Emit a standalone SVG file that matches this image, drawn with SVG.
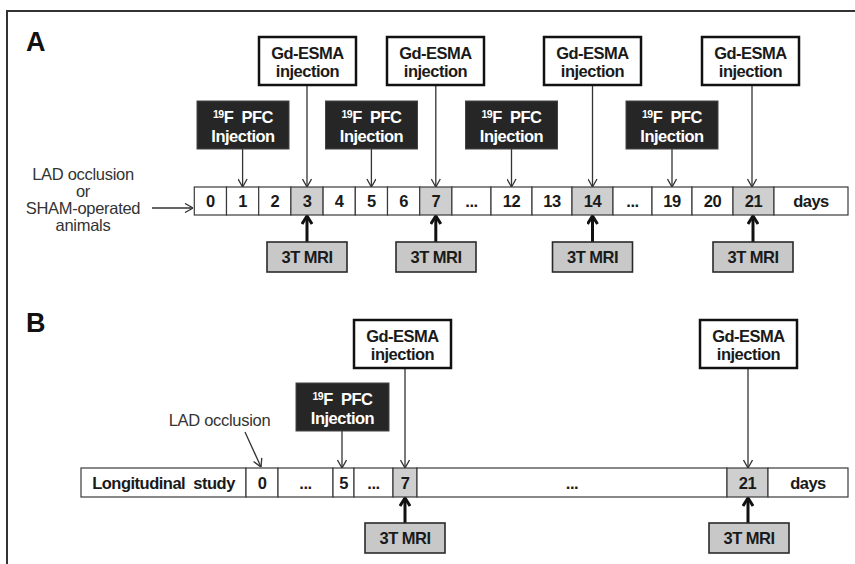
<svg xmlns="http://www.w3.org/2000/svg" width="855" height="564" viewBox="0 0 855 564">
<defs>
<style>
.t{font-family:"Liberation Sans",Arial,sans-serif;font-weight:bold;font-size:16.5px;letter-spacing:-0.5px;fill:#1a1a1a;text-anchor:middle}
.w{fill:#fff}
.r{font-family:"Liberation Sans",Arial,sans-serif;font-size:16.5px;letter-spacing:-0.3px;fill:#333;text-anchor:middle}
.lbl{font-family:"Liberation Sans",Arial,sans-serif;font-weight:bold;font-size:27px;fill:#111}
.cell{fill:#fff;stroke:#3a3a3a;stroke-width:1.2}
.g{fill:#cfcfcf}
.gd{fill:#fff;stroke:#111;stroke-width:2.5}
.pfc{fill:#262626;stroke:#444;stroke-width:1}
.mri{fill:#c8c8c8;stroke:#2a2a2a;stroke-width:1.6}
.thin{stroke:#333;stroke-width:1.3;fill:none;marker-end:url(#ah)}
.thick{stroke:#111;stroke-width:3;fill:none;marker-end:url(#ahb)}
</style>
<marker id="ah" viewBox="0 0 10 10" refX="10" refY="5" markerWidth="10" markerHeight="10" markerUnits="userSpaceOnUse" orient="auto">
<path d="M2,0.5 L10,5 L2,9.5" fill="none" stroke="#333" stroke-width="1.3"/>
</marker>
<marker id="ahb" viewBox="0 0 12 12" refX="10" refY="6" markerWidth="12" markerHeight="12" markerUnits="userSpaceOnUse" orient="auto">
<path d="M2,1 L10,6 L2,11" fill="none" stroke="#111" stroke-width="3"/>
</marker>
</defs>
<rect width="855" height="564" fill="#fff"/>
<polyline points="7,564 7,11 855,11" fill="none" stroke="#333" stroke-width="2"/>

<text class="lbl" x="26" y="51">A</text>
<text class="lbl" x="26" y="332">B</text>

<g id="connectors">
<line class="thin" x1="152" y1="208" x2="193" y2="208"/>
<line class="thin" x1="307" y1="85" x2="307" y2="187"/>
<line class="thin" x1="435.8" y1="85" x2="435.8" y2="187"/>
<line class="thin" x1="592.5" y1="85" x2="592.5" y2="187"/>
<line class="thin" x1="752" y1="85" x2="752" y2="187"/>
<line class="thin" x1="242.6" y1="149" x2="242.6" y2="187"/>
<line class="thin" x1="371.4" y1="149" x2="371.4" y2="187"/>
<line class="thin" x1="511.5" y1="149" x2="511.5" y2="187"/>
<line class="thin" x1="672" y1="149" x2="672" y2="187"/>
<line class="thick" x1="307" y1="242" x2="307" y2="216"/>
<line class="thick" x1="435.8" y1="242" x2="435.8" y2="216"/>
<line class="thick" x1="592.5" y1="242" x2="592.5" y2="216"/>
<line class="thick" x1="753" y1="242" x2="753" y2="216"/>
<line class="thin" x1="245" y1="432" x2="261" y2="467"/>
<line class="thin" x1="342" y1="431" x2="342" y2="468"/>
<line class="thin" x1="405" y1="368" x2="405" y2="468"/>
<line class="thin" x1="748" y1="368" x2="748" y2="468"/>
<line class="thick" x1="405" y1="523" x2="405" y2="498"/>
<line class="thick" x1="748" y1="523" x2="748" y2="498"/>
</g>

<g id="lad-a">
<text class="r" x="83" y="180">LAD occlusion</text>
<text class="r" x="83" y="197">or</text>
<text class="r" x="83" y="214">SHAM-operated</text>
<text class="r" x="83" y="231">animals</text>
</g>

<g id="timeline-a">
<g id="a-c0"><rect class="cell" x="194.3" y="187" width="32.2" height="28"/><text class="t" x="210.4" y="207">0</text></g>
<g id="a-c1"><rect class="cell" x="226.5" y="187" width="32.2" height="28"/><text class="t" x="242.6" y="207">1</text></g>
<g id="a-c2"><rect class="cell" x="258.7" y="187" width="32.2" height="28"/><text class="t" x="274.8" y="207">2</text></g>
<g id="a-c3"><rect class="cell g" x="290.9" y="187" width="32.2" height="28"/><text class="t" x="307" y="207">3</text></g>
<g id="a-c4"><rect class="cell" x="323.1" y="187" width="32.2" height="28"/><text class="t" x="339.2" y="207">4</text></g>
<g id="a-c5"><rect class="cell" x="355.3" y="187" width="32.2" height="28"/><text class="t" x="371.4" y="207">5</text></g>
<g id="a-c6"><rect class="cell" x="387.5" y="187" width="32.2" height="28"/><text class="t" x="403.6" y="207">6</text></g>
<g id="a-c7"><rect class="cell g" x="419.7" y="187" width="32.2" height="28"/><text class="t" x="435.8" y="207">7</text></g>
<g id="a-d1"><rect class="cell" x="451.9" y="187" width="39.1" height="28"/><text class="t" x="471.5" y="207">...</text></g>
<g id="a-c12"><rect class="cell" x="491" y="187" width="41" height="28"/><text class="t" x="511.5" y="207">12</text></g>
<g id="a-c13"><rect class="cell" x="532" y="187" width="40" height="28"/><text class="t" x="552" y="207">13</text></g>
<g id="a-c14"><rect class="cell g" x="572" y="187" width="41" height="28"/><text class="t" x="592.5" y="207">14</text></g>
<g id="a-d2"><rect class="cell" x="613" y="187" width="39" height="28"/><text class="t" x="632.5" y="207">...</text></g>
<g id="a-c19"><rect class="cell" x="652" y="187" width="40" height="28"/><text class="t" x="672" y="207">19</text></g>
<g id="a-c20"><rect class="cell" x="692" y="187" width="41" height="28"/><text class="t" x="712.5" y="207">20</text></g>
<g id="a-c21"><rect class="cell g" x="733" y="187" width="41" height="28"/><text class="t" x="753.5" y="207">21</text></g>
<g id="a-days"><rect class="cell" x="774" y="187" width="74" height="28"/><text class="t" x="811" y="207">days</text></g>
</g>

<g id="a-gd1"><rect class="gd" x="259" y="37" width="97" height="48"/><text class="t" x="307.5" y="58.5">Gd-ESMA</text><text class="t" x="307.5" y="77">injection</text></g>
<g id="a-gd2"><rect class="gd" x="387" y="37" width="97" height="48"/><text class="t" x="435.5" y="58.5">Gd-ESMA</text><text class="t" x="435.5" y="77">injection</text></g>
<g id="a-gd3"><rect class="gd" x="544" y="37" width="97" height="48"/><text class="t" x="592.5" y="58.5">Gd-ESMA</text><text class="t" x="592.5" y="77">injection</text></g>
<g id="a-gd4"><rect class="gd" x="702" y="37" width="97" height="48"/><text class="t" x="750.5" y="58.5">Gd-ESMA</text><text class="t" x="750.5" y="77">injection</text></g>

<g id="a-pfc1"><rect class="pfc" x="197" y="101" width="92" height="48"/><text class="t w" x="243" y="123" xml:space="preserve"><tspan font-size="10.5" dy="-5">19</tspan><tspan dy="5">F  PFC</tspan></text><text class="t w" x="243" y="141.5">Injection</text></g>
<g id="a-pfc2"><rect class="pfc" x="325.5" y="101" width="92" height="48"/><text class="t w" x="371.5" y="123" xml:space="preserve"><tspan font-size="10.5" dy="-5">19</tspan><tspan dy="5">F  PFC</tspan></text><text class="t w" x="371.5" y="141.5">Injection</text></g>
<g id="a-pfc3"><rect class="pfc" x="465.5" y="101" width="92" height="48"/><text class="t w" x="511.5" y="123" xml:space="preserve"><tspan font-size="10.5" dy="-5">19</tspan><tspan dy="5">F  PFC</tspan></text><text class="t w" x="511.5" y="141.5">Injection</text></g>
<g id="a-pfc4"><rect class="pfc" x="626" y="101" width="92" height="48"/><text class="t w" x="672" y="123" xml:space="preserve"><tspan font-size="10.5" dy="-5">19</tspan><tspan dy="5">F  PFC</tspan></text><text class="t w" x="672" y="141.5">Injection</text></g>

<g id="a-mri1"><rect class="mri" x="267" y="242" width="80" height="30"/><text class="t" x="307" y="262.5">3T MRI</text></g>
<g id="a-mri2"><rect class="mri" x="396" y="242" width="80" height="30"/><text class="t" x="436" y="262.5">3T MRI</text></g>
<g id="a-mri3"><rect class="mri" x="552.5" y="242" width="80" height="30"/><text class="t" x="592.5" y="262.5">3T MRI</text></g>
<g id="a-mri4"><rect class="mri" x="713" y="242" width="80" height="30"/><text class="t" x="753" y="262.5">3T MRI</text></g>

<g id="lad-b"><text class="r" x="219.5" y="426">LAD occlusion</text></g>

<g id="timeline-b">
<g id="b-study"><rect class="cell" x="81" y="468" width="165" height="29"/><text class="t" x="163.5" y="488.5" xml:space="preserve">Longitudinal  study</text></g>
<g id="b-c0"><rect class="cell" x="246" y="468" width="32" height="29"/><text class="t" x="262" y="488.5">0</text></g>
<g id="b-d1"><rect class="cell" x="278" y="468" width="55" height="29"/><text class="t" x="305.5" y="488.5">...</text></g>
<g id="b-c5"><rect class="cell" x="333" y="468" width="21" height="29"/><text class="t" x="343.5" y="488.5">5</text></g>
<g id="b-d2"><rect class="cell" x="354" y="468" width="39" height="29"/><text class="t" x="373.5" y="488.5">...</text></g>
<g id="b-c7"><rect class="cell g" x="393" y="468" width="24" height="29"/><text class="t" x="405" y="488.5">7</text></g>
<g id="b-d3"><rect class="cell" x="417" y="468" width="310" height="29"/><text class="t" x="572" y="488.5">...</text></g>
<g id="b-c21"><rect class="cell g" x="727" y="468" width="41" height="29"/><text class="t" x="747.5" y="488.5">21</text></g>
<g id="b-days"><rect class="cell" x="768" y="468" width="80" height="29"/><text class="t" x="808" y="488.5">days</text></g>
</g>

<g id="b-gd1"><rect class="gd" x="354" y="320" width="97" height="48"/><text class="t" x="402.5" y="341.5">Gd-ESMA</text><text class="t" x="402.5" y="360">injection</text></g>
<g id="b-gd2"><rect class="gd" x="700" y="320" width="97" height="48"/><text class="t" x="748.5" y="341.5">Gd-ESMA</text><text class="t" x="748.5" y="360">injection</text></g>
<g id="b-pfc"><rect class="pfc" x="296" y="383" width="93" height="48"/><text class="t w" x="342.5" y="405" xml:space="preserve"><tspan font-size="10.5" dy="-5">19</tspan><tspan dy="5">F  PFC</tspan></text><text class="t w" x="342.5" y="423.5">Injection</text></g>
<g id="b-mri1"><rect class="mri" x="365" y="523" width="80" height="30"/><text class="t" x="405" y="543.5">3T MRI</text></g>
<g id="b-mri2"><rect class="mri" x="709" y="523" width="80" height="30"/><text class="t" x="749" y="543.5">3T MRI</text></g>
</svg>
